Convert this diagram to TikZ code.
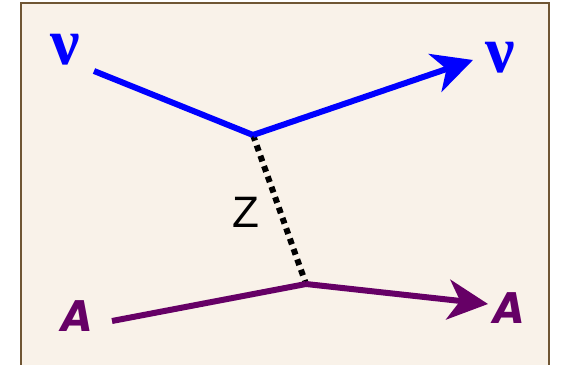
\documentclass[tikz,border=0pt]{standalone}
\usepackage{fontspec}
\newfontfamily\nufont{Liberation Serif}
\newfontfamily\nucfont{Poppins}
\newfontfamily\zfont{Liberation Sans}
\usetikzlibrary{arrows.meta}
\definecolor{bgbeige}{RGB}{249,242,233}
\definecolor{framebrown}{RGB}{112,86,52}
\definecolor{nucpurple}{RGB}{102,0,102}

\begin{document}
\begin{tikzpicture}
[
  x=1pt, y=-1pt,
  nuline/.style={draw=blue, line width=6pt},
  nucline/.style={draw=nucpurple, line width=6pt},
  zline/.style={draw=black, line width=6pt, dash pattern=on 6pt off 5pt},
  headarrow/.style={-{Stealth[length=40pt,width=40pt,inset=12pt]}},
  nulabel/.style={text=blue, font=\nufont\bfseries\fontsize{66}{66}\selectfont},
  nuclabel/.style={text=nucpurple, font=\nucfont\bfseries\itshape\fontsize{44}{44}\selectfont},
  zlabel/.style={text=black, font=\zfont\fontsize{44}{44}\selectfont}
]
  \useasboundingbox (0,0) rectangle (562,364);
  \draw[framebrown, fill=bgbeige, line width=2.5pt] (21,3) rectangle (549,372);

  % labels
  \node[nulabel] (nuin) at (65,50) {ν};
  \node[nulabel] (nuout) at (500,58) {ν};
  \node[nuclabel] (ain) at (77,316) {A};
  \node[nuclabel] (aout) at (509,308) {A};
  \node[zlabel] (zname) at (246,212) {Z};

  % vertices and free ends
  \coordinate (vtop) at (253,135);
  \coordinate (vbot) at (306,284);
  \coordinate (nustart) at (94,71);
  \coordinate (nuend) at (473,60);
  \coordinate (astart) at (112,321);
  \coordinate (aend) at (488,304);

  \draw[zline] (vtop) -- (vbot);
  \draw[nuline] (nustart) -- (vtop);
  \draw[nuline, headarrow] (vtop) -- (nuend);
  \draw[nucline] (astart) -- (vbot);
  \draw[nucline, headarrow] (vbot) -- (aend);
\end{tikzpicture}
\end{document}
